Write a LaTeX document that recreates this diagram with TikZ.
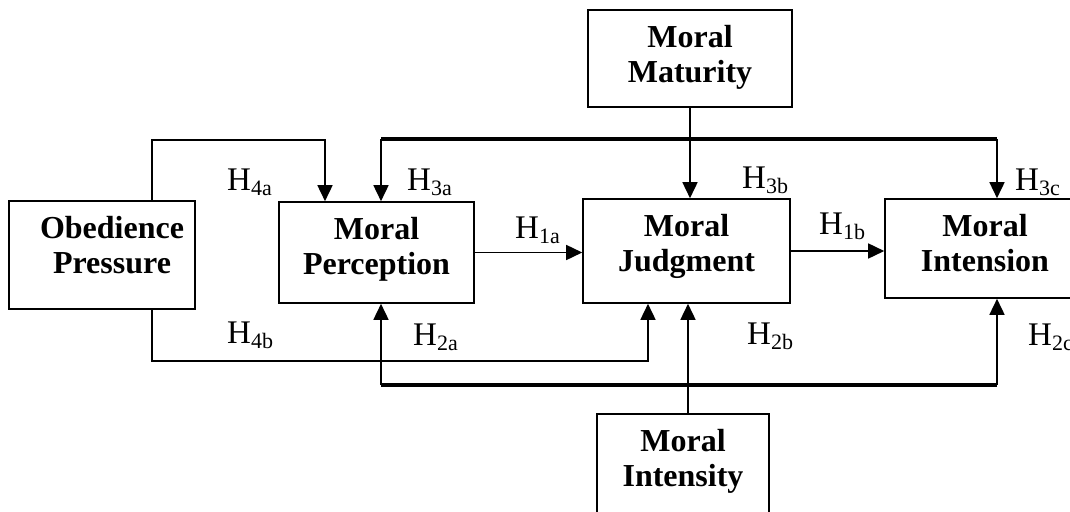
\documentclass[tikz,border=0pt]{standalone}
\usepackage{fontspec}
\setmainfont{Liberation Serif}
\usetikzlibrary{arrows.meta}
\newcommand{\Hsub}[1]{H\raisebox{-5pt}{\fontsize{22}{22}\selectfont #1}}
\begin{document}
\begin{tikzpicture}[x=1pt,y=-1pt]

\tikzset{box/.style={rectangle,draw,line width=1.6pt,inner sep=0pt},}
\tikzset{boxtext/.style={label={[anchor=north,align=center,inner sep=0pt,yshift=-16pt,font=\fontsize{32}{35}\selectfont\bfseries]north:#1}},}
\tikzset{hlab/.style={anchor=base west,inner sep=0pt,font=\fontsize{33}{38}\selectfont},}
\tikzset{conn/.style={line width=1.6pt,-{Triangle[length=16pt,width=15pt]}},}
\tikzset{bus/.style={line width=3.6pt},}

\useasboundingbox (0,0) rectangle (1070,511);
\clip (0,0) rectangle (1070,511);

%BOXES
\draw (102,255) node [box,minimum width=186pt,minimum height=108pt,
  label={[anchor=north,align=center,inner sep=0pt,xshift=10pt,yshift=-16pt,font=\fontsize{32}{35}\selectfont\bfseries]north:Obedience\\Pressure}] (obey) {};
\draw (376.5,252.5) node [box,minimum width=195pt,minimum height=101pt,boxtext={Moral\\Perception}] (percep) {};
\draw (686.5,251) node [box,minimum width=207pt,minimum height=104pt,boxtext={Moral\\Judgment}] (judge) {};
\draw (985,248.5) node [box,minimum width=200pt,minimum height=99pt,boxtext={Moral\\Intension}] (intens) {};
\draw (690,58.5) node [box,minimum width=204pt,minimum height=97pt,boxtext={Moral\\Maturity}] (matur) {};
\draw (683,469) node [box,minimum width=172pt,minimum height=110pt,boxtext={Moral\\Intensity}] (intsty) {};

%CORNERS
\coordinate (o4a) at (152,140);
\coordinate (p4a) at (325,140);
\coordinate (o4b) at (152,361);
\coordinate (p4b) at (648,361);
\coordinate (b3l) at (381,139);
\coordinate (b3r) at (997,139);
\coordinate (b2l) at (381,385);
\coordinate (b2r) at (997,385);
\coordinate (c2b) at (688,385);

%H4
\draw[conn] (obey.north -| o4a) -- (o4a) -- (p4a) -- (p4a |- percep.north);
\draw[conn] (obey.south -| o4b) -- (o4b) -- (p4b) -- (p4b |- judge.south);

%H3
\draw[bus] (b3l) -- (b3r);
\draw[conn] (b3l) -- (b3l |- percep.north);
\draw[conn] (b3r) -- (b3r |- intens.north);
\draw[conn] (matur.south) -- (matur.south |- judge.north);

%H2
\draw[bus] (b2l) -- (b2r);
\draw[conn] (b2l) -- (b2l |- percep.south);
\draw[conn] (b2r) -- (b2r |- intens.south);
\draw[conn] (intsty.north -| c2b) -- (c2b |- judge.south);

%H1
\draw[conn] (percep.east) -- (percep.east -| judge.west);
\draw[conn] (judge.east) -- (judge.east -| intens.west);

%LABELS
\node[hlab] (h4a) at (227,190) {\Hsub{4a}};
\node[hlab] (h3a) at (407,190) {\Hsub{3a}};
\node[hlab] (h3b) at (742,188) {\Hsub{3b}};
\node[hlab] (h3c) at (1015,190) {\Hsub{3c}};
\node[hlab] (h1a) at (515,238) {\Hsub{1a}};
\node[hlab] (h1b) at (819,234) {\Hsub{1b}};
\node[hlab] (h4b) at (227,343) {\Hsub{4b}};
\node[hlab] (h2a) at (413,345) {\Hsub{2a}};
\node[hlab] (h2b) at (747,344) {\Hsub{2b}};
\node[hlab] (h2c) at (1028,345) {\Hsub{2c}};

\end{tikzpicture}
\end{document}
